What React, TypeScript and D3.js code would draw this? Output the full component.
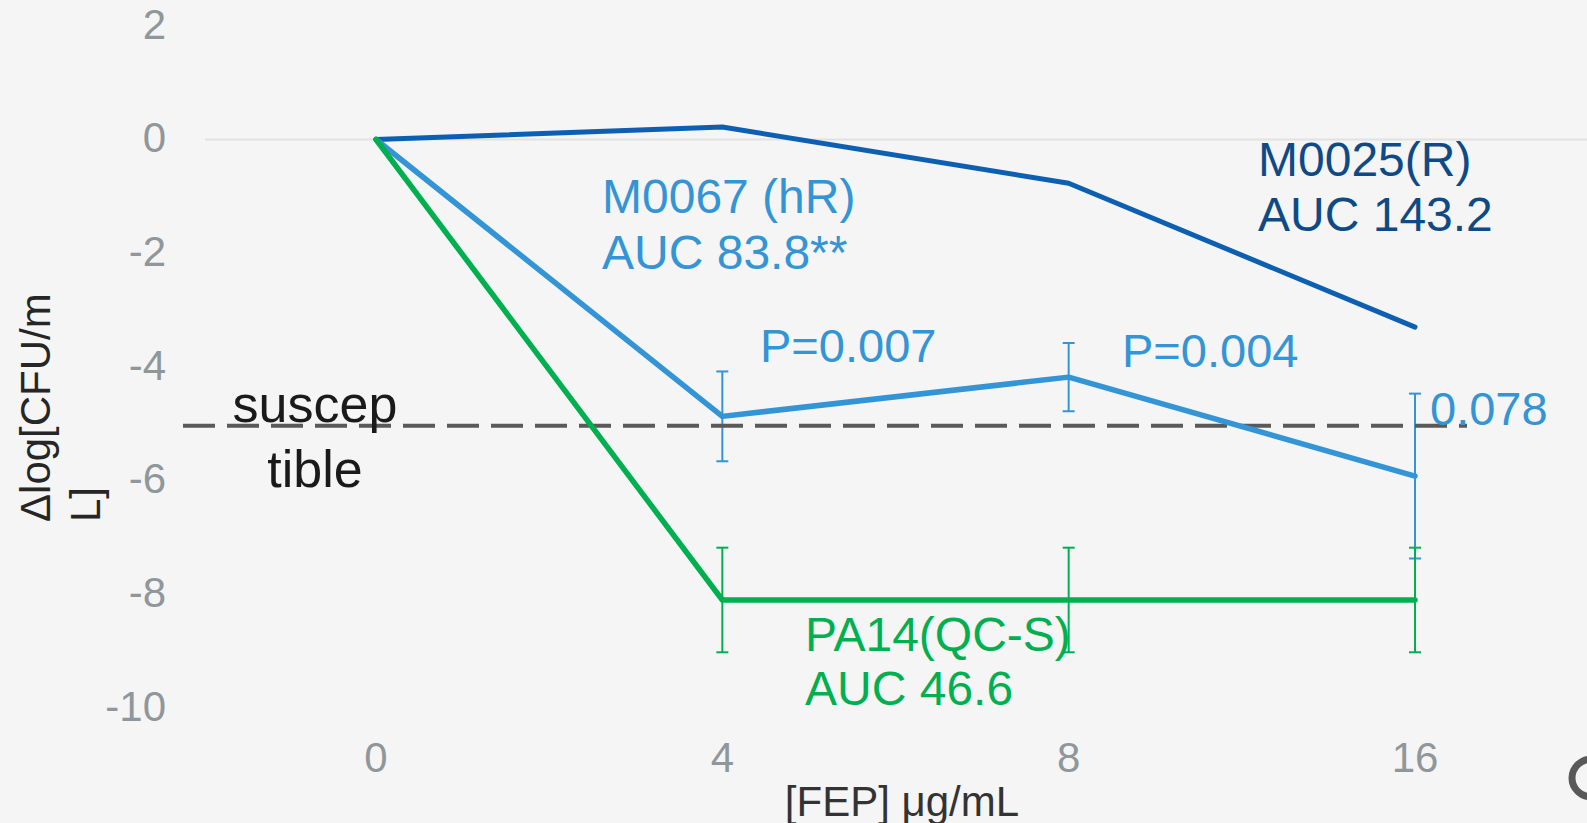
import * as d3 from 'd3';

const doses = ['0', '4', '8', '16'];
const m0025 = [0, 0.22, -0.77, -3.3];
const m0067 = [0, -4.87, -4.18, -5.92];
const m0067Err = [0, 0.79, 0.6, 1.45];
const pa14 = [0, -8.1, -8.1, -8.1];
const pa14Err = [0, 0.92, 0.92, 0.92];
const yTicks = [2, 0, -2, -4, -6, -8, -10];
const breakpoint = -5;
const pLabels = ['P=0.007', 'P=0.004', '0.078'];

const width = 1587;
const height = 823;
const font = '"Liberation Sans", Arial, sans-serif';

const darkBlue = '#0c5fb1';
const navy = '#0e4a86';
const lightBlue = '#3394d6';
const green = '#00b050';
const tickGray = '#8f979b';

const App = () => {
  const x = d3.scalePoint().domain(doses).range([376, 1415]);
  const y = d3.scaleLinear().domain([-10, 2]).range([708, 25.8]);

  const line = d3
    .line<number>()
    .x((_, i) => x(doses[i]) as number)
    .y((d) => y(d));

  const errorBars = (vals: number[], errs: number[], color: string) =>
    vals.map((v, i) =>
      errs[i] > 0 ? (
        <g key={i} stroke={color} strokeWidth={2}>
          <line x1={x(doses[i])} x2={x(doses[i])} y1={y(v + errs[i])} y2={y(v - errs[i])} />
          <line x1={(x(doses[i]) as number) - 6} x2={(x(doses[i]) as number) + 6} y1={y(v + errs[i])} y2={y(v + errs[i])} />
          <line x1={(x(doses[i]) as number) - 6} x2={(x(doses[i]) as number) + 6} y1={y(v - errs[i])} y2={y(v - errs[i])} />
        </g>
      ) : null
    );

  return (
    <svg
      width={width}
      height={height}
      style={{ position: 'absolute', left: 0, top: 0, background: '#f5f5f5' }}
      fontFamily={font}
    >
      <rect width={width} height={height} fill="#f5f5f5" />

      {/* zero gridline */}
      <line x1={205} x2={width} y1={y(0)} y2={y(0)} stroke="#e2e2e2" strokeWidth={2} />

      {/* y tick labels */}
      {yTicks.map((t) => (
        <text key={t} x={166} y={y(t) - 2} dy="0.35em" textAnchor="end" fontSize={42} fill={tickGray}>
          {t}
        </text>
      ))}

      {/* x tick labels */}
      {doses.map((d) => (
        <text key={d} x={x(d)} y={772} textAnchor="middle" fontSize={42} fill={tickGray}>
          {d}
        </text>
      ))}

      <text x={902} y={816} textAnchor="middle" fontSize={42} fill="#333333">
        [FEP] μg/mL
      </text>

      <text transform="translate(50,522) rotate(-90)" fontSize={42} fill="#262626">
        <tspan x={0} dy={0}>Δlog[CFU/m</tspan>
        <tspan x={0} dy={50}>L]</tspan>
      </text>

      {/* error bars */}
      {errorBars(m0067, m0067Err, lightBlue)}
      {errorBars(pa14, pa14Err, green)}

      {/* susceptible breakpoint */}
      <line
        x1={183}
        x2={1467}
        y1={y(breakpoint) + 2}
        y2={y(breakpoint) + 2}
        stroke="#595959"
        strokeWidth={4}
        strokeDasharray="32 12"
      />
      <text x={315} y={422} textAnchor="middle" fontSize={52} fill="#1a1a1a">
        suscep
      </text>
      <text x={315} y={487} textAnchor="middle" fontSize={52} fill="#1a1a1a">
        tible
      </text>

      {/* series lines */}
      <path d={line(m0025) ?? ''} fill="none" stroke={darkBlue} strokeWidth={5} strokeLinecap="round" strokeLinejoin="round" />
      <path d={line(m0067) ?? ''} fill="none" stroke={lightBlue} strokeWidth={5.5} strokeLinecap="round" strokeLinejoin="round" />
      <path d={line(pa14) ?? ''} fill="none" stroke={green} strokeWidth={5.5} strokeLinecap="round" strokeLinejoin="round" />

      {/* annotations */}
      <text fontSize={48} fill={lightBlue}>
        <tspan x={602} y={213}>M0067 (hR)</tspan>
        <tspan x={602} y={269}>AUC 83.8**</tspan>
      </text>
      <text fontSize={48} fill={navy}>
        <tspan x={1258} y={176}>M0025(R)</tspan>
        <tspan x={1258} y={231}>AUC 143.2</tspan>
      </text>
      <text fontSize={48} fill={green}>
        <tspan x={805} y={651}>PA14(QC-S)</tspan>
        <tspan x={805} y={705}>AUC 46.6</tspan>
      </text>
      <text x={760} y={362} fontSize={47} fill={lightBlue}>{pLabels[0]}</text>
      <text x={1122} y={367} fontSize={47} fill={lightBlue}>{pLabels[1]}</text>
      <text x={1430} y={425} fontSize={47} fill={lightBlue}>{pLabels[2]}</text>

      {/* cut-off mark at bottom right */}
      <ellipse cx={1592} cy={778} rx={20} ry={19} fill="none" stroke="#595959" strokeWidth={7} />
    </svg>
  );
};

export default App;
